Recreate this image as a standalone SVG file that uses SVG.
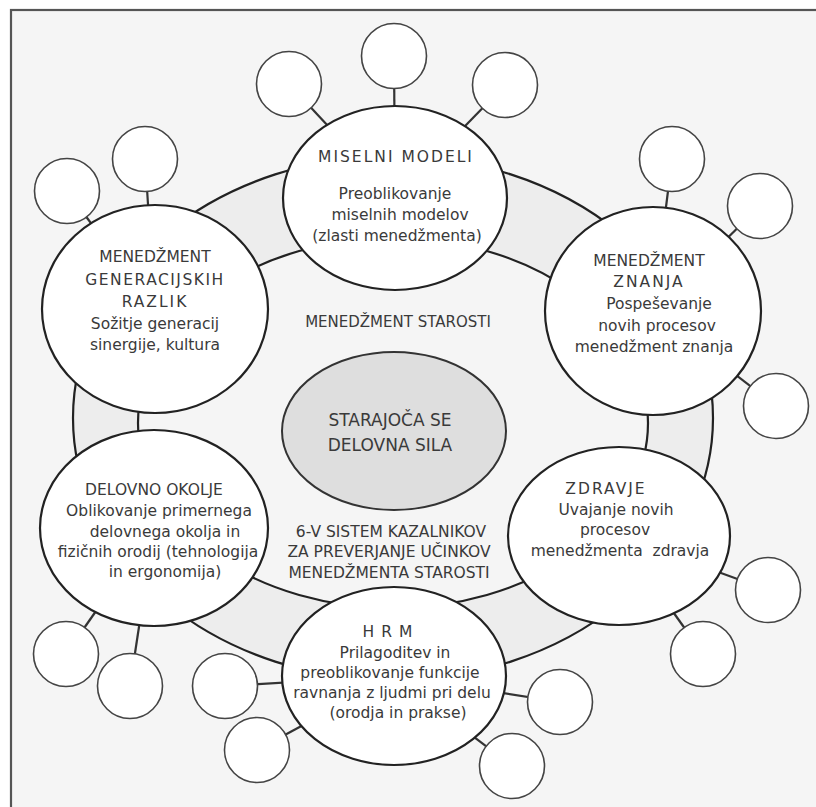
<svg xmlns="http://www.w3.org/2000/svg" width="816" height="807" viewBox="0 0 816 807">
<style>
.t{font-family:"DejaVu Sans","Liberation Sans",sans-serif;font-size:15.5px;fill:#3a3a3a;text-anchor:middle}
.c{font-size:15px}
.big{font-size:17px}
.node{fill:#fff;stroke:#222;stroke-width:2.2}
.sm{fill:#fff;stroke:#444;stroke-width:1.6}
.stem{stroke:#333;stroke-width:2.2}
.ring{stroke:#222;stroke-width:2.2}
</style>
<rect x="0" y="0" width="816" height="807" fill="#fff"/>
<rect x="11" y="10" width="900" height="900" fill="#f5f5f5" stroke="#555" stroke-width="2.2"/>
<g id="connectors">
<ellipse class="ring" cx="393" cy="418" rx="320" ry="262" fill="#ededed"/>
<ellipse class="ring" cx="393" cy="423" rx="255" ry="185" fill="#f5f5f5"/>
<line class="stem" x1="289" y1="84" x2="395" y2="198"/>
<line class="stem" x1="394" y1="56" x2="395" y2="198"/>
<line class="stem" x1="505" y1="85" x2="395" y2="198"/>
<line class="stem" x1="67" y1="191" x2="155" y2="309"/>
<line class="stem" x1="145" y1="159" x2="155" y2="309"/>
<line class="stem" x1="672" y1="159" x2="653" y2="311"/>
<line class="stem" x1="760" y1="206" x2="653" y2="311"/>
<line class="stem" x1="776" y1="406" x2="653" y2="311"/>
<line class="stem" x1="768" y1="590" x2="619" y2="536"/>
<line class="stem" x1="703" y1="654" x2="619" y2="536"/>
<line class="stem" x1="560" y1="702" x2="394" y2="676"/>
<line class="stem" x1="512" y1="766" x2="394" y2="676"/>
<line class="stem" x1="225" y1="686" x2="394" y2="676"/>
<line class="stem" x1="257" y1="750" x2="394" y2="676"/>
<line class="stem" x1="66" y1="654" x2="154" y2="528"/>
<line class="stem" x1="130" y1="686" x2="154" y2="528"/>
</g>
<g id="center">
<text class="t c" x="398" y="327">MENEDŽMENT STAROSTI</text>
<ellipse cx="394" cy="431" rx="112" ry="79" fill="#dedede" stroke="#333" stroke-width="2"/>
<text class="t big" x="390" y="426">STARAJOČA SE</text>
<text class="t big" x="390" y="451">DELOVNA SILA</text>
<text class="t" x="391" y="537">6-V SISTEM KAZALNIKOV</text>
<text class="t" x="389" y="557">ZA PREVERJANJE UČINKOV</text>
<text class="t" x="389" y="578">MENEDŽMENTA STAROSTI</text>
</g>
<g id="miselni-modeli">
<ellipse class="node" cx="395" cy="198" rx="112" ry="92"/>
<text class="t" x="396" y="162" letter-spacing="2">MISELNI MODELI</text>
<text class="t" x="395" y="199">Preoblikovanje</text>
<text class="t" x="400" y="220">miselnih modelov</text>
<text class="t" x="397" y="241">(zlasti menedžmenta)</text>
</g>
<g id="menedzment-generacijskih-razlik">
<ellipse class="node" cx="155" cy="309" rx="113" ry="104"/>
<text class="t" x="155" y="262">MENEDŽMENT</text>
<text class="t" x="155" y="285" letter-spacing="1.5">GENERACIJSKIH</text>
<text class="t" x="155" y="307" letter-spacing="2">RAZLIK</text>
<text class="t" x="155" y="329">Sožitje generacij</text>
<text class="t" x="155" y="350">sinergije, kultura</text>
</g>
<g id="menedzment-znanja">
<ellipse class="node" cx="653" cy="311" rx="108" ry="104"/>
<text class="t" x="649" y="266">MENEDŽMENT</text>
<text class="t" x="649" y="287" letter-spacing="2">ZNANJA</text>
<text class="t" x="659" y="309">Pospeševanje</text>
<text class="t" x="657" y="331">novih procesov</text>
<text class="t" x="654" y="352">menedžment znanja</text>
</g>
<g id="zdravje">
<ellipse class="node" cx="619" cy="536" rx="111" ry="89"/>
<text class="t" x="606" y="494" letter-spacing="2">ZDRAVJE</text>
<text class="t" x="616" y="515">Uvajanje novih</text>
<text class="t" x="615" y="535">procesov</text>
<text class="t" x="620" y="556" style="white-space:pre">menedžmenta  zdravja</text>
</g>
<g id="hrm">
<ellipse class="node" cx="394" cy="676" rx="112" ry="89"/>
<text class="t" x="391" y="637" letter-spacing="7">HRM</text>
<text class="t" x="395" y="658">Prilagoditev in</text>
<text class="t" x="390" y="678">preoblikovanje funkcije</text>
<text class="t" x="392" y="698">ravnanja z ljudmi pri delu</text>
<text class="t" x="398" y="718">(orodja in prakse)</text>
</g>
<g id="delovno-okolje">
<ellipse class="node" cx="154" cy="528" rx="114" ry="98"/>
<text class="t" x="154" y="495">DELOVNO OKOLJE</text>
<text class="t" x="159" y="516">Oblikovanje primernega</text>
<text class="t" x="165" y="537">delovnega okolja in</text>
<text class="t" x="158" y="557">fizičnih orodij (tehnologija</text>
<text class="t" x="165" y="577">in ergonomija)</text>
</g>
<g id="small-circles">
<circle class="sm" cx="289" cy="84" r="32.5"/>
<circle class="sm" cx="394" cy="56" r="32.5"/>
<circle class="sm" cx="505" cy="85" r="32.5"/>
<circle class="sm" cx="67" cy="191" r="32.5"/>
<circle class="sm" cx="145" cy="159" r="32.5"/>
<circle class="sm" cx="672" cy="159" r="32.5"/>
<circle class="sm" cx="760" cy="206" r="32.5"/>
<circle class="sm" cx="776" cy="406" r="32.5"/>
<circle class="sm" cx="768" cy="590" r="32.5"/>
<circle class="sm" cx="703" cy="654" r="32.5"/>
<circle class="sm" cx="560" cy="702" r="32.5"/>
<circle class="sm" cx="512" cy="766" r="32.5"/>
<circle class="sm" cx="225" cy="686" r="32.5"/>
<circle class="sm" cx="257" cy="750" r="32.5"/>
<circle class="sm" cx="66" cy="654" r="32.5"/>
<circle class="sm" cx="130" cy="686" r="32.5"/>
</g>
</svg>
